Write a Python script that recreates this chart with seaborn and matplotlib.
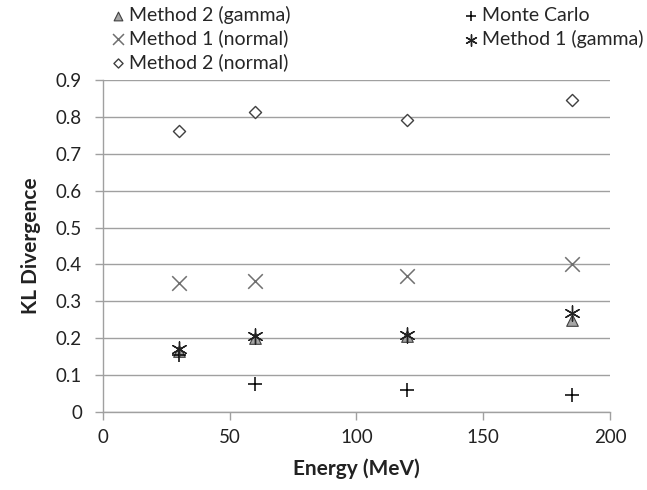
import matplotlib
matplotlib.use("Agg")
import matplotlib.pyplot as plt
import seaborn as sns
import pandas as pd

energy = [30, 60, 120, 185]
method2_gamma = [0.165, 0.20, 0.205, 0.25]
method1_normal = [0.35, 0.355, 0.37, 0.40]
method2_normal = [0.762, 0.812, 0.792, 0.845]
monte_carlo = [0.155, 0.077, 0.06, 0.047]
method1_gamma = [0.172, 0.205, 0.21, 0.268]

sns.set_style("white")
plt.rcParams['font.family'] = ['Lato', 'DejaVu Sans']

fig = plt.figure(figsize=(6.47, 4.9), dpi=100)
ax = fig.add_axes([0.159, 0.159, 0.784, 0.678])

series = [
    ("Method 2 (gamma)", method2_gamma, dict(marker="^", s=70, color="#a6a6a6", edgecolor="#404040", linewidth=0.8)),
    ("Method 1 (normal)", method1_normal, dict(marker="x", s=110, color="#707070", linewidth=1.1)),
    ("Method 2 (normal)", method2_normal, dict(marker="D", s=38, color="white", edgecolor="#404040", linewidth=1.0)),
    ("Monte Carlo", monte_carlo, dict(marker="+", s=110, color="black", linewidth=1.1)),
    ("Method 1 (gamma)", method1_gamma, dict(marker=(6, 2, 0), s=120, color="#222222", linewidth=1.0)),
]

for name, vals, kw in series:
    df = pd.DataFrame({"Energy": energy, "KL": vals})
    sns.scatterplot(data=df, x="Energy", y="KL", ax=ax, label=name, zorder=3, **kw)

ax.set_xlim(0, 200)
ax.set_ylim(0, 0.9)
ax.set_xticks([0, 50, 100, 150, 200])
ax.set_yticks([0, 0.1, 0.2, 0.3, 0.4, 0.5, 0.6, 0.7, 0.8, 0.9])
ax.set_yticklabels(["0", "0.1", "0.2", "0.3", "0.4", "0.5", "0.6", "0.7", "0.8", "0.9"])
ax.yaxis.grid(True, color="#a0a0a0", linewidth=1.0)
ax.set_axisbelow(True)
for s in ["top", "right"]:
    ax.spines[s].set_visible(False)
for s in ["left", "bottom"]:
    ax.spines[s].set_color("#a0a0a0")
    ax.spines[s].set_linewidth(1.0)
ax.tick_params(axis="both", which="both", direction="out", length=6, width=1.0,
               color="#a0a0a0", labelsize=13.5, labelcolor="#222222")
ax.tick_params(axis="y", pad=9)
ax.tick_params(axis="x", pad=6)
ax.xaxis.set_ticks_position("bottom")
ax.yaxis.set_ticks_position("left")

ax.set_xlabel("Energy (MeV)", fontsize=15, fontweight="bold", color="#222222", labelpad=9)
ax.set_ylabel("KL Divergence", fontsize=15, fontweight="bold", color="#222222", labelpad=11)

handles, labels = ax.get_legend_handles_labels()
ax.get_legend().remove()
leg = fig.legend(handles, labels, loc="upper left", bbox_to_anchor=(0.14, 1.024), ncol=2,
                 frameon=False, fontsize=14, handletextpad=0.1, columnspacing=8.75,
                 labelspacing=0.3, handlelength=1.0, markerscale=0.75)

fig.savefig("out.png", dpi=100)
